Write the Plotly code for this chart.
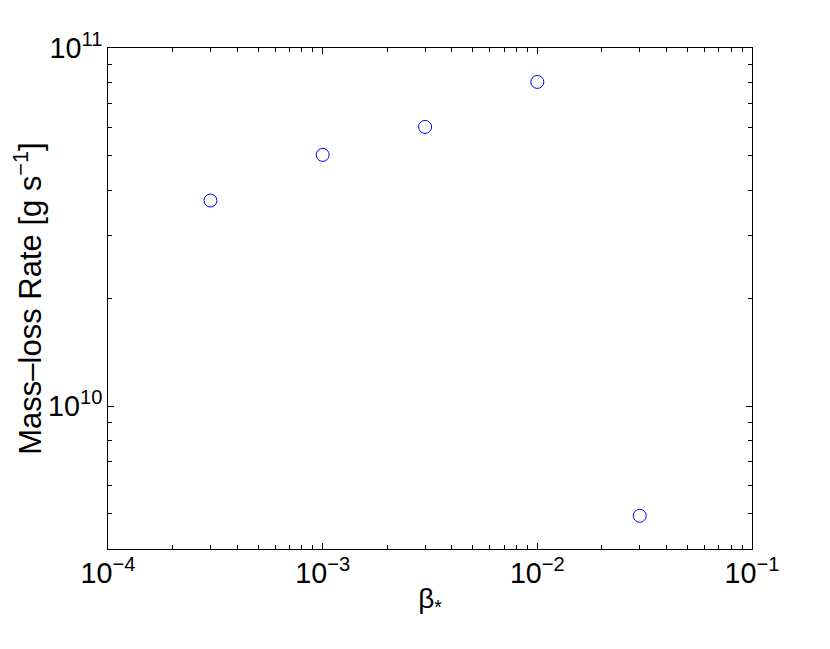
import plotly.graph_objects as go

beta_star = [3e-4, 1e-3, 3e-3, 1e-2, 3e-2]
mass_loss_rate = [3.75e10, 5.03e10, 6.02e10, 8.04e10, 4.94e9]

x_range_log = [-4, -1]
y_range_log = [9.601, 11]

fig = go.Figure()
fig.add_trace(go.Scatter(
    x=beta_star, y=mass_loss_rate, mode="markers",
    marker=dict(symbol="circle-open", size=13, color="#0000ff", line=dict(width=1, color="#0000ff")),
    showlegend=False,
))

font_family = "Liberation Sans, Arial, Helvetica, sans-serif"
axis_common = dict(
    type="log", dtick=1, exponentformat="power",
    showline=True, linecolor="black", linewidth=1, mirror="ticks",
    ticks="inside", ticklen=6, tickcolor="black", tickwidth=1,
    showgrid=False, zeroline=False,
    tickfont=dict(family=font_family, size=23, color="black"),
    minor=dict(dtick="D1", ticks="inside", ticklen=4, tickcolor="black", tickwidth=1, showgrid=False),
)

# page body has an 8px margin in the viewer, so offsets are compensated here
fig.update_layout(
    width=830, height=649,
    margin=dict(l=100, r=86, t=40, b=108),
    paper_bgcolor="white", plot_bgcolor="white",
    font=dict(family=font_family, color="black"),
    xaxis=dict(range=x_range_log,
               title=dict(text="β<sub>*</sub>", font=dict(size=28), standoff=0), **axis_common),
    yaxis=dict(range=y_range_log,
               title=dict(text="Mass–loss Rate [g s<sup>−1</sup>]", font=dict(size=31), standoff=4), **axis_common),
)

fig.write_html("out.html")
